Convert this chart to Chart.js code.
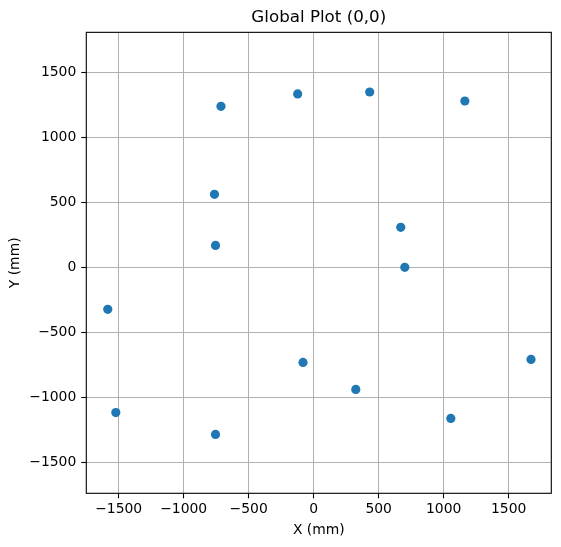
<!DOCTYPE html>
<html lang="en">
<head>
  <meta charset="UTF-8" />
  <title>Global Plot (0,0)</title>
  <script src="https://cdn.jsdelivr.net/npm/chart.js"></script>
  <style>
    body { margin: 0; background: #fff; }
    #wrap { position: relative; width: 561px; height: 547px; }
  </style>
</head>
<body>
  <div id="wrap">
    <canvas id="globalPlot"></canvas>
  </div>

  <script>
    // points (mm)
    const xValues = [-713, -123, 431, 1163, -763, -755, 670, 701, -1584, -1522, -755, -82, 324, 1055, 1672];
    const yValues = [1239, 1334, 1349, 1280, 562, 169, 308, 0, -323, -1117, -1285, -731, -939, -1162, -708];

    const xTicks = [-1500, -1000, -500, 0, 500, 1000, 1500];
    const yTicks = [-1500, -1000, -500, 0, 500, 1000, 1500];
    const xLimits = [-1749, 1828];
    const yLimits = [-1738, 1808];

    const tickFont = { family: "'DejaVu Sans', sans-serif", size: 13.9 };
    const fmt = v => (v < 0 ? "\u2212" + Math.abs(v) : String(v));

    // black box round the plot area, like matplotlib spines
    const frame = {
      id: "frame",
      afterDatasetsDraw(chart) {
        const a = chart.chartArea;
        const ctx = chart.ctx;
        ctx.save();
        ctx.strokeStyle = "#000";
        ctx.lineWidth = 1.1;
        ctx.strokeRect(a.left, a.top, a.right - a.left, a.bottom - a.top);
        ctx.restore();
      }
    };

    const points = xValues.map((x, i) => ({ x, y: yValues[i] }));

    new Chart(document.getElementById("globalPlot"), {
      type: "scatter",
      data: {
        datasets: [{
          data: points,
          backgroundColor: "#1f77b4",
          borderWidth: 0,
          pointRadius: 4.6
        }]
      },
      options: {
        responsive: true,
        maintainAspectRatio: false,
        animation: false,
        layout: { padding: { left: 0, right: 9.7, top: 0, bottom: 0 } },
        plugins: {
          legend: { display: false },
          tooltip: { enabled: false },
          title: {
            display: true,
            text: "Global Plot (0,0)",
            fullSize: false,
            color: "#000",
            font: { family: "'DejaVu Sans', sans-serif", size: 16.7, weight: "normal", lineHeight: 1.2 },
            padding: { top: 8, bottom: 4.3 }
          }
        },
        scales: {
          x: {
            type: "linear",
            position: "bottom",
            min: xLimits[0],
            max: xLimits[1],
            afterBuildTicks: s => { s.ticks = xTicks.map(v => ({ value: v })); },
            afterFit: s => { s.height = 53.7; },
            ticks: { callback: fmt, font: tickFont, color: "#000", padding: 3, maxRotation: 0, autoSkip: false },
            grid: { color: "#b0b0b0", lineWidth: 1, tickColor: "#000", tickLength: 5, tickWidth: 1.1 },
            border: { display: false },
            title: { display: true, text: "X (mm)", color: "#000", font: tickFont, padding: { top: 0, bottom: 8.2 } }
          },
          y: {
            type: "linear",
            position: "left",
            min: yLimits[0],
            max: yLimits[1],
            afterBuildTicks: s => { s.ticks = yTicks.map(v => ({ value: v })); },
            afterFit: s => { s.width = 86.3; },
            ticks: { callback: fmt, font: tickFont, color: "#000", padding: 5, autoSkip: false },
            grid: { color: "#b0b0b0", lineWidth: 1, tickColor: "#000", tickLength: 5, tickWidth: 1.1 },
            border: { display: false },
            title: { display: true, text: "Y (mm)", color: "#000", font: tickFont, padding: { top: 7, bottom: 0 } }
          }
        }
      },
      plugins: [frame]
    });
  </script>
</body>
</html>
